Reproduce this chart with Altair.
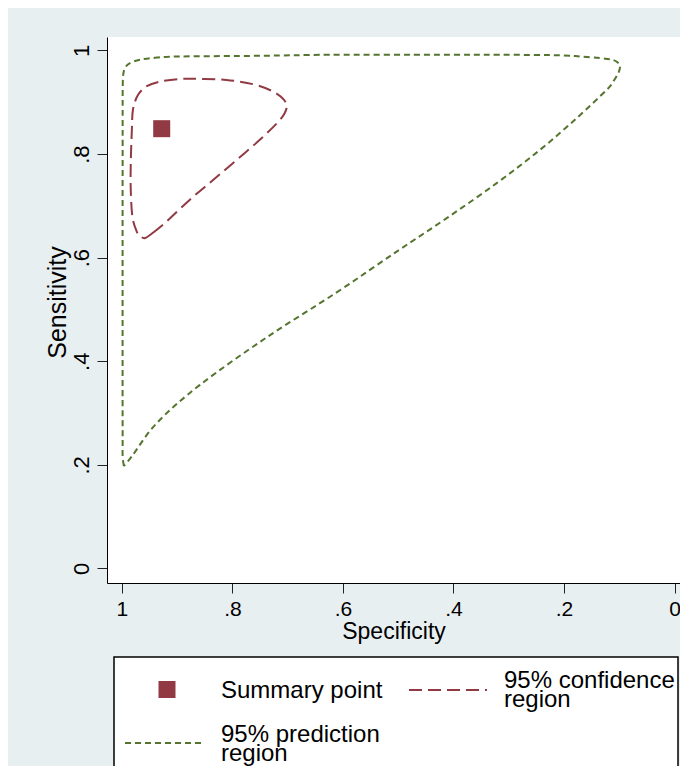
import altair as alt
import pandas as pd

# ---------------- data ----------------
summary_spec = [0.928]
summary_sens = [0.849]

conf_spec = [0.958, 0.944, 0.919, 0.877, 0.835, 0.792, 0.750, 0.714, 0.702,
             0.707, 0.727, 0.763, 0.811, 0.859, 0.895, 0.931, 0.955, 0.971,
             0.980, 0.982, 0.984, 0.984, 0.981, 0.973, 0.966]
conf_sens = [0.638, 0.648, 0.670, 0.712, 0.750, 0.789, 0.828, 0.866, 0.889,
             0.905, 0.921, 0.935, 0.943, 0.945, 0.945, 0.940, 0.931, 0.914,
             0.886, 0.847, 0.783, 0.731, 0.679, 0.650, 0.641]

pred_spec = [0.9964, 0.9987, 0.9987, 0.9988, 0.9988, 0.9988, 0.9988, 0.9988,
             0.9987, 0.9987, 0.9986, 0.9977, 0.9937, 0.9855, 0.9674, 0.9372,
             0.8950, 0.7448, 0.6235, 0.4270, 0.3158, 0.2072, 0.1710, 0.1348,
             0.1108, 0.1017, 0.0986,
             0.1017, 0.1108, 0.1227, 0.1770, 0.2434, 0.3218, 0.4123, 0.5028,
             0.6114, 0.7381, 0.8588, 0.9372, 0.9824, 0.9964]
pred_sens = [0.1980, 0.2159, 0.2482, 0.3250, 0.4220, 0.5185, 0.6150, 0.7117,
             0.8080, 0.8855, 0.9241, 0.9531, 0.9676, 0.9757, 0.9820, 0.9862,
             0.9884, 0.9898, 0.9917, 0.9917, 0.9917, 0.9907, 0.9884, 0.9853,
             0.9815, 0.9757, 0.9685,
             0.9563, 0.9401, 0.9241, 0.8694, 0.8082, 0.7439, 0.6763, 0.6118,
             0.5330, 0.4461, 0.3544, 0.2804, 0.2159, 0.1980]

x_tick_values = [0, 0.2, 0.4, 0.6, 0.8, 1]
x_tick_labels = ["0", ".2", ".4", ".6", ".8", "1"]
y_tick_values = [0, 0.2, 0.4, 0.6, 0.8, 1]
y_tick_labels = ["0", ".2", ".4", ".6", ".8", "1"]

x_title = "Specificity"
y_title = "Sensitivity"
legend_labels = ["Summary point", "95% confidence\nregion", "95% prediction\nregion"]

# ---------------- styling ----------------
FONT = "Liberation Sans"
RED = "#913a43"
GREEN = "#55752f"
BG = "#e8eff1"

summary_df = pd.DataFrame({"spec": summary_spec, "sens": summary_sens})
conf_df = pd.DataFrame({"spec": conf_spec, "sens": conf_sens,
                        "idx": list(range(len(conf_spec)))})
pred_df = pd.DataFrame({"spec": pred_spec, "sens": pred_sens,
                        "idx": list(range(len(pred_spec)))})


def lbl_expr(labels):
    arr = ",".join("'" + s + "'" for s in labels)
    return "[" + arr + "][round(datum.value*5)]"


xscale = alt.Scale(domain=[-0.0099, 1.027], reverse=True, nice=False, zero=False)
yscale = alt.Scale(domain=[-0.028, 1.026], nice=False, zero=False)

xaxis = alt.Axis(values=x_tick_values, labelExpr=lbl_expr(x_tick_labels),
                 title=x_title, grid=False, domainColor="black", domainWidth=1,
                 tickColor="#222222", tickSize=10, tickWidth=1,
                 labelFont=FONT, labelFontSize=21, labelColor="black",
                 labelBaseline="alphabetic", labelPadding=22, labelFlush=False,
                 labelOverlap=False,
                 titleFont=FONT, titleFontSize=23, titleFontWeight="normal",
                 titleColor="black", titleBaseline="alphabetic", titleY=55)
yaxis = alt.Axis(values=y_tick_values, labelExpr=lbl_expr(y_tick_labels),
                 title=y_title, grid=False, domainColor="black", domainWidth=1,
                 tickColor="#222222", tickSize=10, tickWidth=1,
                 labelFont=FONT, labelFontSize=22, labelColor="black",
                 labelAngle=270, labelAlign="center", labelBaseline="alphabetic",
                 labelPadding=9, labelFlush=False, labelOverlap=False,
                 titleFont=FONT, titleFontSize=25, titleFontWeight="normal",
                 titleColor="black", titleAngle=270, titleAlign="center",
                 titleBaseline="alphabetic", titleX=-42, titleY=265)

X = alt.X("spec:Q", scale=xscale, axis=xaxis)
Y = alt.Y("sens:Q", scale=yscale, axis=yaxis)

pred_line = alt.Chart(pred_df).mark_line(
    color=GREEN, strokeWidth=2, strokeDash=[6, 4], interpolate="cardinal"
).encode(x=X, y=Y, order=alt.Order("idx:Q"))

conf_line = alt.Chart(conf_df).mark_line(
    color=RED, strokeWidth=2, strokeDash=[13, 6], interpolate="cardinal-closed"
).encode(x=X, y=Y, order=alt.Order("idx:Q"))

summary_pt = alt.Chart(summary_df).mark_point(
    shape="square", filled=True, size=289, color=RED, opacity=1
).encode(x=X, y=Y)

# ---------------- legend (drawn below the plot area) ----------------
one = alt.Data(values=[{"k": 1}])

leg_box = alt.Chart(one).mark_rect(
    fill="white", stroke="black", strokeWidth=1.5
).encode(x=alt.value(7), x2=alt.value(571), y=alt.value(620), y2=alt.value(780))

leg_sq = alt.Chart(one).mark_point(
    shape="square", filled=True, size=289, color=RED, opacity=1
).encode(x=alt.value(60), y=alt.value(652.5))

leg_red = alt.Chart(one).mark_rule(
    color=RED, strokeWidth=2, strokeDash=[13, 6]
).encode(x=alt.value(302), x2=alt.value(380), y=alt.value(653))

leg_green = alt.Chart(one).mark_rule(
    color=GREEN, strokeWidth=2, strokeDash=[6, 4]
).encode(x=alt.value(18), x2=alt.value(98), y=alt.value(706))

txt_kw = dict(align="left", baseline="alphabetic", font=FONT, fontSize=24,
              color="black", lineBreak="\n", lineHeight=19)
leg_t1 = alt.Chart(one).mark_text(text=legend_labels[0], **txt_kw).encode(
    x=alt.value(114), y=alt.value(661))
leg_t2 = alt.Chart(one).mark_text(text=legend_labels[1], **txt_kw).encode(
    x=alt.value(397), y=alt.value(651))
leg_t3 = alt.Chart(one).mark_text(text=legend_labels[2], **txt_kw).encode(
    x=alt.value(114), y=alt.value(704.5))

chart = alt.layer(
    pred_line, conf_line, summary_pt,
    leg_box, leg_sq, leg_red, leg_green, leg_t1, leg_t2, leg_t3
).properties(
    width=573, height=546,
    autosize=alt.AutoSizeParams(type="none"),
    padding={"left": 99, "top": 29, "right": 0, "bottom": 183},
    background=BG,
).configure_view(stroke=None, fill="white")

chart.save("out.html", embed_options={"renderer": "svg", "actions": False})
